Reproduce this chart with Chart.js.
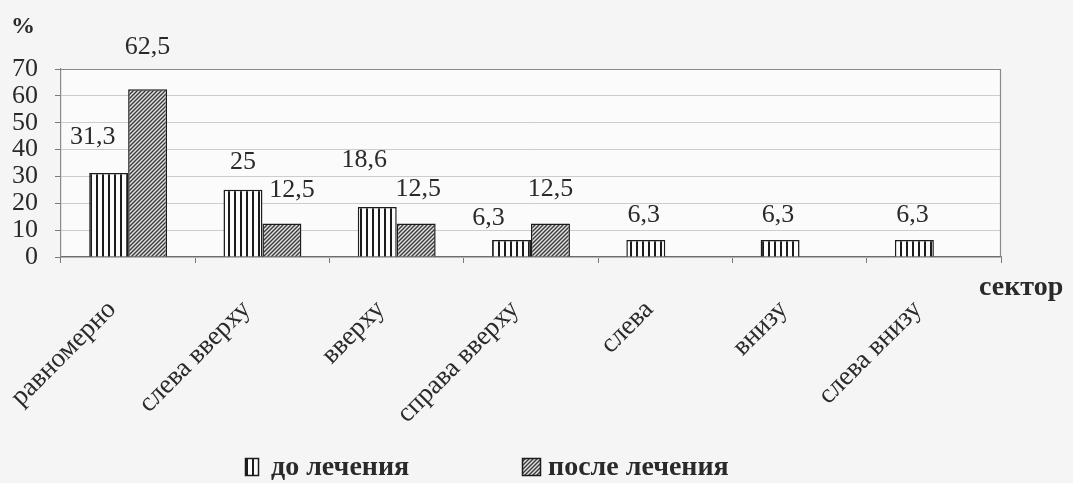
<!DOCTYPE html>
<html lang="ru">
<head>
<meta charset="utf-8">
<title>Распределение по секторам</title>
<script src="https://cdn.jsdelivr.net/npm/chart.js@4.4.1/dist/chart.umd.min.js"></script>
<style>
  html, body { margin: 0; padding: 0; background: #f5f5f5; }
  #wrap { width: 1073px; height: 483px; }
</style>
</head>
<body>
<div id="wrap"><canvas id="chart" width="1073" height="483"></canvas></div>
<script>
// Categories (sectors) and the two series, in percent
const categories = ['равномерно', 'слева вверху', 'вверху', 'справа вверху', 'слева', 'внизу', 'слева внизу'];
const beforeTreatment = [31.3, 25, 18.6, 6.3, 6.3, 6.3, 6.3];
const afterTreatment = [62.5, 12.5, 12.5, 12.5, null, null, null];
const seriesNames = ['до лечения', 'после лечения'];
const yTicks = [0, 10, 20, 30, 40, 50, 60, 70];
const yUnit = '%';
const xTitle = 'сектор';

const SERIF = '"Liberation Serif", "Times New Roman", serif';
const INK = '#2a2a2a';

// Fill patterns: vertical stripes and "///" hatching
function stripePattern() {
  const c = document.createElement('canvas');
  c.width = 6; c.height = 6;
  const g = c.getContext('2d');
  g.fillStyle = '#fcfcfc'; g.fillRect(0, 0, 6, 6);
  g.fillStyle = '#1c1c1c'; g.fillRect(0, 0, 2, 6);
  return g.createPattern(c, 'repeat');
}
function hatchPattern() {
  const s = 4;
  const c = document.createElement('canvas');
  c.width = s; c.height = s;
  const g = c.getContext('2d');
  g.fillStyle = '#e2e2e2'; g.fillRect(0, 0, s, s);
  g.strokeStyle = '#3a3a3a'; g.lineWidth = 1.4;
  g.beginPath();
  g.moveTo(0, s); g.lineTo(s, 0);
  g.moveTo(-1, 1); g.lineTo(1, -1);
  g.moveTo(s - 1, s + 1); g.lineTo(s + 1, s - 1);
  g.stroke();
  return g.createPattern(c, 'repeat');
}
const fills = [stripePattern(), hatchPattern()];

// Plot background and frame
const framePlugin = {
  id: 'frame',
  beforeDraw(chart) {
    const { ctx, chartArea: a } = chart;
    ctx.save();
    ctx.fillStyle = '#f5f5f5';
    ctx.fillRect(0, 0, chart.width, chart.height);
    ctx.fillStyle = '#fbfbfb';
    ctx.fillRect(a.left, a.top, a.right - a.left, a.bottom - a.top);
    ctx.restore();
  },
  beforeDatasetsDraw(chart) {
    const { ctx, chartArea: a } = chart;
    ctx.save();
    ctx.strokeStyle = '#8a8a8a';
    ctx.lineWidth = 1.2;
    ctx.beginPath();
    ctx.moveTo(a.left, a.top + 0.5);
    ctx.lineTo(a.right - 0.5, a.top + 0.5);
    ctx.lineTo(a.right - 0.5, a.bottom);
    ctx.stroke();
    ctx.restore();
  }
};

// Value labels above the bars
const valueLabels = {
  id: 'valueLabels',
  afterDatasetsDraw(chart, args, opts) {
    const { ctx } = chart;
    ctx.save();
    ctx.font = '26px ' + SERIF;
    ctx.fillStyle = INK;
    ctx.textAlign = 'center';
    ctx.textBaseline = 'alphabetic';
    chart.data.datasets.forEach((ds, di) => {
      const meta = chart.getDatasetMeta(di);
      const place = opts.place[di];
      meta.data.forEach((bar, i) => {
        const v = ds.data[i];
        if (v === null || v === undefined) return;
        const p = place[i] || [0, 24];
        ctx.fillText(String(v).replace('.', ','), bar.x + p[0], bar.y - p[1]);
      });
    });
    ctx.restore();
  }
};

// Axis captions and legend
const captions = {
  id: 'captions',
  afterDraw(chart, args, opts) {
    const { ctx } = chart;
    ctx.save();
    ctx.fillStyle = INK;
    ctx.textBaseline = 'alphabetic';
    ctx.textAlign = 'left';
    ctx.font = 'bold 24px ' + SERIF;
    ctx.fillText(yUnit, 11, 33);
    ctx.font = 'bold 28px ' + SERIF;
    ctx.fillText(xTitle, 979, 295);

    ctx.font = 'bold 28px ' + SERIF;
    opts.items.forEach((it, i) => {
      ctx.fillStyle = fills[i];
      ctx.fillRect(it.x, it.y, it.w, it.h);
      ctx.strokeStyle = '#1c1c1c';
      ctx.lineWidth = 1.5;
      ctx.strokeRect(it.x + 0.5, it.y + 0.5, it.w - 1, it.h - 1);
      ctx.fillStyle = INK;
      ctx.fillText(chart.data.datasets[i].label, it.tx, 475);
    });
    ctx.restore();
  }
};

new Chart(document.getElementById('chart'), {
  type: 'bar',
  data: {
    labels: categories,
    datasets: [
      {
        label: seriesNames[0],
        data: beforeTreatment,
        backgroundColor: fills[0],
        borderColor: '#1c1c1c',
        borderWidth: 1.5
      },
      {
        label: seriesNames[1],
        data: afterTreatment,
        backgroundColor: fills[1],
        borderColor: '#1c1c1c',
        borderWidth: 1.5
      }
    ]
  },
  options: {
    responsive: false,
    animation: false,
    devicePixelRatio: 1,
    categoryPercentage: 0.58,
    barPercentage: 1.0,
    layout: { padding: { left: 0, right: 72, top: 69, bottom: 0 } },
    plugins: {
      legend: { display: false },
      tooltip: { enabled: false },
      valueLabels: {
        place: [
          [[-16, 29], [0, 21], [-13, 40], [-23, 15], [-2, 18], [-2, 18], [-2, 18]],
          [[0, 35], [10, 26], [2, 27], [0, 27]]
        ]
      },
      captions: {
        items: [
          { x: 245, y: 458, w: 14, h: 18, tx: 271 },
          { x: 522, y: 458, w: 19, h: 18, tx: 548 }
        ]
      }
    },
    scales: {
      x: {
        offset: true,
        grid: {
          offset: true,
          drawOnChartArea: false,
          drawTicks: true,
          tickLength: 6,
          color: '#7a7a7a',
          lineWidth: 1
        },
        border: { display: true, color: '#6e6e6e', width: 1.3 },
        ticks: {
          autoSkip: false,
          minRotation: 45,
          maxRotation: 45,
          padding: 31,
          labelOffset: -16,
          color: INK,
          font: { family: SERIF, size: 27 }
        },
        afterFit(scale) {
          scale.height = 226;
          scale.paddingLeft = 0;
          scale.paddingRight = 0;
        }
      },
      y: {
        min: 0,
        max: 70,
        afterBuildTicks(scale) {
          scale.ticks = yTicks.map(v => ({ value: v }));
        },
        grid: {
          color: (c) => (c.tick && c.tick.value === 70 ? '#8a8a8a' : '#cdcdcd'),
          tickColor: '#7a7a7a',
          tickLength: 6,
          lineWidth: 1
        },
        border: { display: true, color: '#8a8a8a', width: 1.2 },
        ticks: {
          autoSkip: false,
          padding: 17,
          color: INK,
          font: { family: SERIF, size: 26 }
        },
        afterFit(scale) {
          scale.width = 61;
          scale.paddingTop = 0;
          scale.paddingBottom = 0;
        }
      }
    }
  },
  plugins: [framePlugin, valueLabels, captions]
});
</script>
</body>
</html>
